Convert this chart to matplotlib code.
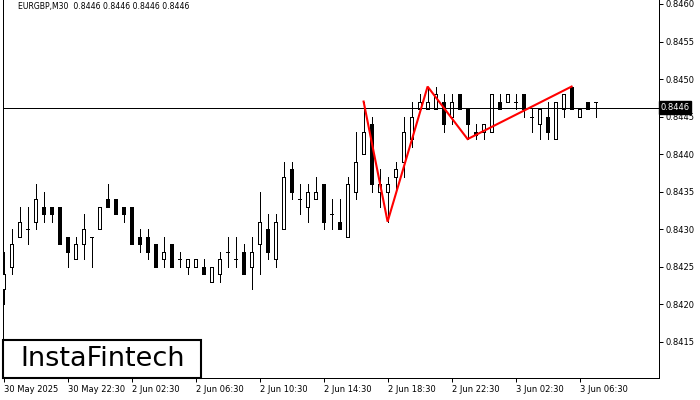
import matplotlib
matplotlib.use("Agg")
import matplotlib.pyplot as plt
from matplotlib.patches import Rectangle
import numpy as np

opens = [0.8422, 0.8425, 0.8429, 0.8430, 0.8431, 0.8433, 0.8433, 0.8433, 0.8429, 0.8426,
         0.8428, 0.8429, 0.8430, 0.8434, 0.8434, 0.8433, 0.8433, 0.8429, 0.8429, 0.8428,
         0.8426, 0.8428, 0.8426, 0.8425, 0.8425, 0.8425, 0.8423, 0.8424, 0.8427, 0.8426,
         0.8427, 0.8425, 0.8428, 0.8430, 0.8426, 0.8430, 0.8438, 0.8434, 0.8433, 0.8434,
         0.8436, 0.8432, 0.8431, 0.8429, 0.8435, 0.8440, 0.8444, 0.8435, 0.8435, 0.8437,
         0.8439, 0.8442, 0.8446, 0.8446, 0.8446, 0.8447, 0.8445, 0.8448, 0.8446, 0.8443,
         0.8443, 0.8443, 0.8447, 0.8447, 0.8447, 0.8448, 0.8445, 0.8444, 0.8445, 0.8442,
         0.8446, 0.8449, 0.8445, 0.8447, 0.8447]
highs = [0.8427, 0.8430, 0.8433, 0.8433, 0.8436, 0.8435, 0.8433, 0.8433, 0.8429, 0.8429,
         0.8432, 0.8429, 0.8433, 0.8436, 0.8434, 0.8433, 0.8433, 0.8430, 0.8430, 0.8428,
         0.8429, 0.8428, 0.8427, 0.8426, 0.8426, 0.8426, 0.8425, 0.8427, 0.8429, 0.8429,
         0.8428, 0.8429, 0.8435, 0.8432, 0.8432, 0.8439, 0.8439, 0.8436, 0.8436, 0.8437,
         0.8436, 0.8434, 0.8434, 0.8437, 0.8443, 0.8447, 0.8445, 0.8438, 0.8437, 0.8439,
         0.8445, 0.8447, 0.8448, 0.8449, 0.8449, 0.8448, 0.8448, 0.8448, 0.8446, 0.8444,
         0.8444, 0.8448, 0.8448, 0.8448, 0.8448, 0.8448, 0.8446, 0.8446, 0.8447, 0.8447,
         0.8448, 0.8449, 0.8446, 0.8447, 0.8447]
lows = [0.8420, 0.8424, 0.8429, 0.8428, 0.8430, 0.8431, 0.8431, 0.8428, 0.8425, 0.8426,
        0.8426, 0.8425, 0.8430, 0.8433, 0.8432, 0.8431, 0.8428, 0.8427, 0.8426, 0.8425,
        0.8425, 0.8425, 0.8425, 0.8424, 0.8425, 0.8424, 0.8423, 0.8423, 0.8425, 0.8425,
        0.8424, 0.8422, 0.8424, 0.8426, 0.8425, 0.8430, 0.8434, 0.8432, 0.8431, 0.8434,
        0.8430, 0.8430, 0.8430, 0.8429, 0.8434, 0.8440, 0.8435, 0.8433, 0.8431, 0.8435,
        0.8437, 0.8441, 0.8446, 0.8446, 0.8446, 0.8443, 0.8444, 0.8446, 0.8442, 0.8442,
        0.8442, 0.8443, 0.8446, 0.8447, 0.8446, 0.8445, 0.8443, 0.8442, 0.8442, 0.8442,
        0.8445, 0.8446, 0.8445, 0.8446, 0.8445]
closes = [0.8424, 0.8428, 0.8431, 0.8430, 0.8434, 0.8432, 0.8432, 0.8428, 0.8427, 0.8428,
          0.8430, 0.8429, 0.8433, 0.8433, 0.8432, 0.8432, 0.8428, 0.8428, 0.8427, 0.8425,
          0.8427, 0.8425, 0.8426, 0.8426, 0.8426, 0.8424, 0.8425, 0.8426, 0.8427, 0.8426,
          0.8424, 0.8427, 0.8431, 0.8427, 0.8431, 0.8437, 0.8435, 0.8434, 0.8435, 0.8435,
          0.8431, 0.8432, 0.8430, 0.8436, 0.8439, 0.8443, 0.8436, 0.8436, 0.8436, 0.8438,
          0.8443, 0.8445, 0.8447, 0.8447, 0.8448, 0.8444, 0.8447, 0.8446, 0.8444, 0.84425,
          0.8444, 0.8448, 0.8446, 0.8448, 0.8447, 0.8446, 0.8445, 0.8446, 0.8443, 0.8447,
          0.8448, 0.8446, 0.8446, 0.8446, 0.8447]

tick_idx = [0, 8, 16, 24, 32, 40, 48, 56, 64, 72]
tick_labels = ["30 May 2025", "30 May 22:30", "2 Jun 02:30", "2 Jun 06:30", "2 Jun 10:30",
               "2 Jun 14:30", "2 Jun 18:30", "2 Jun 22:30", "3 Jun 02:30", "3 Jun 06:30"]
y_ticks = [0.8415, 0.8420, 0.8425, 0.8430, 0.8435, 0.8440, 0.8445, 0.8450, 0.8455, 0.8460]

pattern_idx = [45, 48, 53, 58, 71]
pattern_price = [0.8447, 0.8431, 0.8449, 0.8442, 0.8449]

current_price = 0.84462
title = "EURGBP,M30  0.8446 0.8446 0.8446 0.8446"

W, H = 700, 400
fig = plt.figure(figsize=(7, 4), dpi=100)
ax = fig.add_axes([3 / W, 22 / H, 656 / W, 378 / H])
ax.set_xlim(-0.075, 81.925)
ax.set_ylim(0.841017, 0.846053)

px = 0.72  # 1 px in points
x = np.arange(len(opens))
ax.vlines(x, lows, highs, color="black", linewidth=px, zorder=2, antialiased=False)
bottoms = [min(o, c) for o, c in zip(opens, closes)]
heights = [abs(c - o) for o, c in zip(opens, closes)]
fills = ["white" if c >= o else "black" for o, c in zip(opens, closes)]
ax.bar(x, heights, bottom=bottoms, width=0.375, color=fills, edgecolor="black",
       linewidth=px, zorder=3, antialiased=False)

ax.axhline(current_price, color="black", linewidth=px, zorder=4)
ax.plot(pattern_idx, pattern_price, color="#FF0000", linewidth=1.5, zorder=5,
        solid_joinstyle="miter")

ax.spines["top"].set_visible(False)
for s in ["left", "right", "bottom"]:
    ax.spines[s].set_linewidth(px)
    ax.spines[s].set_color("black")

ax.yaxis.tick_right()
ax.set_yticks(y_ticks)
ax.set_yticklabels([f"{v:.4f}" for v in y_ticks])
ax.tick_params(axis="y", direction="out", length=3, width=px, labelsize=6, pad=2)
ax.set_xticks(tick_idx)
ax.set_xticklabels(tick_labels)
ax.tick_params(axis="x", direction="out", length=3, width=px, labelsize=6, pad=2)
for lab in ax.get_xticklabels():
    lab.set_ha("left")

ax.text(1.002, current_price, f"{current_price:.4f}", transform=ax.get_yaxis_transform(),
        ha="left", va="center", fontsize=6, color="white", zorder=10, clip_on=False,
        bbox=dict(boxstyle="square,pad=0.2", fc="black", ec="black"))

ax.text(15 / 656, 1 - 7 / 378, title, transform=ax.transAxes, ha="left", va="center",
        fontsize=5.6, color="black")

# logo box
ax.add_patch(Rectangle((0.0, 0.0), 198 / 656, 38 / 378, transform=ax.transAxes,
                       facecolor="white", edgecolor="black", linewidth=1.5, zorder=8,
                       clip_on=False))
ax.text(100 / 656, 19 / 378, "InstaFintech", transform=ax.transAxes, ha="center",
        va="center", fontsize=19.5, color="black", zorder=9)

fig.savefig("out.png", dpi=100)
